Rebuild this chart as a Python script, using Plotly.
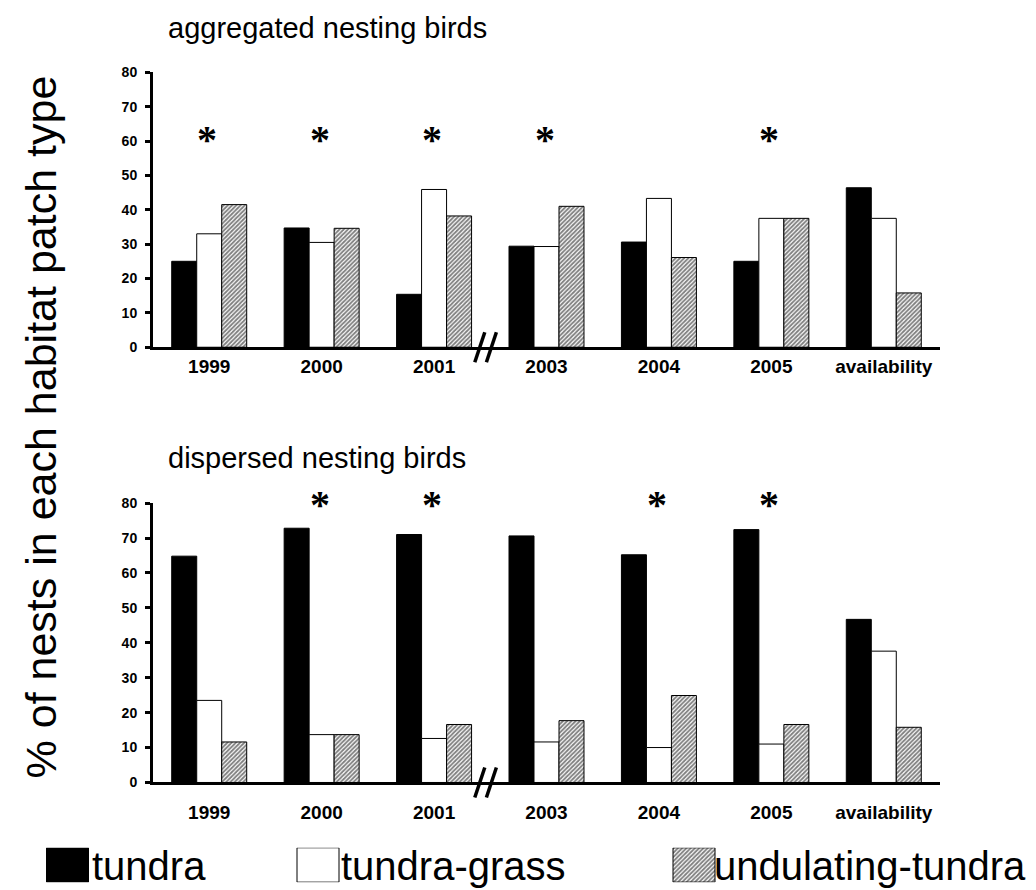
import plotly.graph_objects as go

# ---------------- data ----------------
categories = ["1999", "2000", "2001", "2003", "2004", "2005", "availability"]
series_names = ["tundra", "tundra-grass", "undulating-tundra"]

agg_tundra = [25.0, 34.7, 15.4, 29.4, 30.6, 25.0, 46.4]
agg_grass = [33.0, 30.5, 45.9, 29.3, 43.3, 37.5, 37.5]
agg_undul = [41.5, 34.6, 38.2, 41.0, 26.1, 37.5, 15.8]

disp_tundra = [64.8, 72.8, 71.0, 70.6, 65.2, 72.4, 46.7]
disp_grass = [23.5, 13.7, 12.6, 11.6, 10.0, 11.0, 37.6]
disp_undul = [11.6, 13.7, 16.6, 17.7, 24.9, 16.6, 15.8]

agg_significant = ["1999", "2000", "2001", "2003", "2005"]
disp_significant = ["2000", "2001", "2004", "2005"]

y_ticks = [0, 10, 20, 30, 40, 50, 60, 70, 80]

panel_titles = ["aggregated nesting birds", "dispersed nesting birds"]
y_title = "% of nests in each habitat patch type"

# ---------------- styles ----------------
W, H = 1036, 890
SANS = "Liberation Sans, Arial, sans-serif"
styles = {
    "tundra": dict(color="black", line=dict(color="black", width=1)),
    "tundra-grass": dict(color="white", line=dict(color="black", width=1)),
    "undulating-tundra": dict(
        color="white",
        pattern=dict(shape="/", fgcolor="#000000", bgcolor="#ffffff", size=3, solidity=0.62),
        line=dict(color="black", width=1),
    ),
}

fig = go.Figure()

panels = [
    ("x", "y", [agg_tundra, agg_grass, agg_undul]),
    ("x2", "y2", [disp_tundra, disp_grass, disp_undul]),
]
for xa, ya, vals in panels:
    for name, v in zip(series_names, vals):
        fig.add_trace(go.Bar(
            x=categories, y=v, name=name, xaxis=xa, yaxis=ya,
            marker=styles[name], showlegend=False, hoverinfo="x+y+name",
        ))

# legend swatches on a hidden helper axis
legend_x = [59.5, 310, 686]
legend_text_x = [82, 331, 704]
for name, lx in zip(series_names, legend_x):
    fig.add_trace(go.Bar(
        x=[lx], y=[1], width=42, xaxis="x3", yaxis="y3",
        marker=styles[name], showlegend=False, hoverinfo="skip",
    ))

def py(px):
    return 1 - px / H

xdom = [145 / W, 932 / W]
axis_common = dict(showline=True, linewidth=3, linecolor="black", showgrid=False,
                   zeroline=False)
top_dom = [py(337.3), py(57.3)]
bot_dom = [py(780.5), py(496)]
fig.update_layout(
    width=W, height=H,
    margin=dict(l=0, r=0, t=0, b=0),
    paper_bgcolor="white", plot_bgcolor="white",
    barmode="group", bargap=0.333, bargroupgap=0,
    font=dict(family=SANS, color="black"),
    xaxis=dict(domain=xdom, anchor="y", type="category", range=[-0.5, 6.5],
               ticks="", tickfont=dict(size=19, family=SANS, weight="bold"),
               ticklabelstandoff=0, **axis_common),
    yaxis=dict(domain=top_dom, anchor="x", range=[0, 80],
               tickvals=y_ticks, ticks="outside", ticklen=5, tickwidth=3,
               tickcolor="black", tickfont=dict(size=14, family=SANS, weight="bold"),
               ticklabelstandoff=5, **axis_common),
    xaxis2=dict(domain=xdom, anchor="y2", type="category", range=[-0.5, 6.5],
                ticks="", tickfont=dict(size=19, family=SANS, weight="bold"),
                ticklabelstandoff=11, **axis_common),
    yaxis2=dict(domain=bot_dom, anchor="x2", range=[0, 80],
                tickvals=y_ticks, ticks="outside", ticklen=5, tickwidth=3,
                tickcolor="black", tickfont=dict(size=14, family=SANS, weight="bold"),
                ticklabelstandoff=5, **axis_common),
    xaxis3=dict(domain=[0, 1], anchor="y3", range=[0, W], visible=False),
    yaxis3=dict(domain=[py(882), py(847)], anchor="x3", range=[0, 1], visible=False),
)

annotations = []
# significance stars
for xa, ya, sig, level in [("x", "y", agg_significant, 58.7), ("x2", "y2", disp_significant, 77.8)]:
    for c in sig:
        annotations.append(dict(x=categories.index(c), y=level, xref=xa, yref=ya, text="*",
                                showarrow=False, xanchor="center", yanchor="middle",
                                yshift=6, xshift=-2,
                                font=dict(family="Liberation Serif, Times New Roman, serif",
                                          size=40, weight="bold")))
# panel titles
for t, ypx in zip(panel_titles, [12, 450]):
    annotations.append(dict(x=158 / W, y=py(ypx), xref="paper", yref="paper", text=t,
                            showarrow=False, xanchor="left", yanchor="middle",
                            font=dict(family=SANS, size=29)))
# y title
annotations.append(dict(x=33 / W, y=py(419), xref="paper", yref="paper", text=y_title,
                        textangle=-90, showarrow=False, xanchor="center", yanchor="middle",
                        font=dict(family=SANS, size=43)))
# legend labels
for name, tx in zip(series_names, legend_text_x):
    annotations.append(dict(x=tx / W, y=py(866), xref="paper", yref="paper", text=name,
                            showarrow=False, xanchor="left", yanchor="middle",
                            font=dict(family=SANS, size=40)))
fig.update_layout(annotations=annotations)

# axis break marks (between category 2 and 3), paper-anchored so they are not clipped
break_x = xdom[0] + (2.5 + 0.5) / 7 * (xdom[1] - xdom[0])
for dom in [top_dom, bot_dom]:
    for dx in [0, 11.6]:
        fig.add_shape(type="line", xref="paper", yref="paper", xsizemode="pixel",
                      ysizemode="pixel", xanchor=break_x, yanchor=dom[0],
                      x0=dx - 15.5, y0=-15, x1=dx - 5.5, y1=15,
                      line=dict(color="black", width=3.5))

fig.write_html("out.html")
